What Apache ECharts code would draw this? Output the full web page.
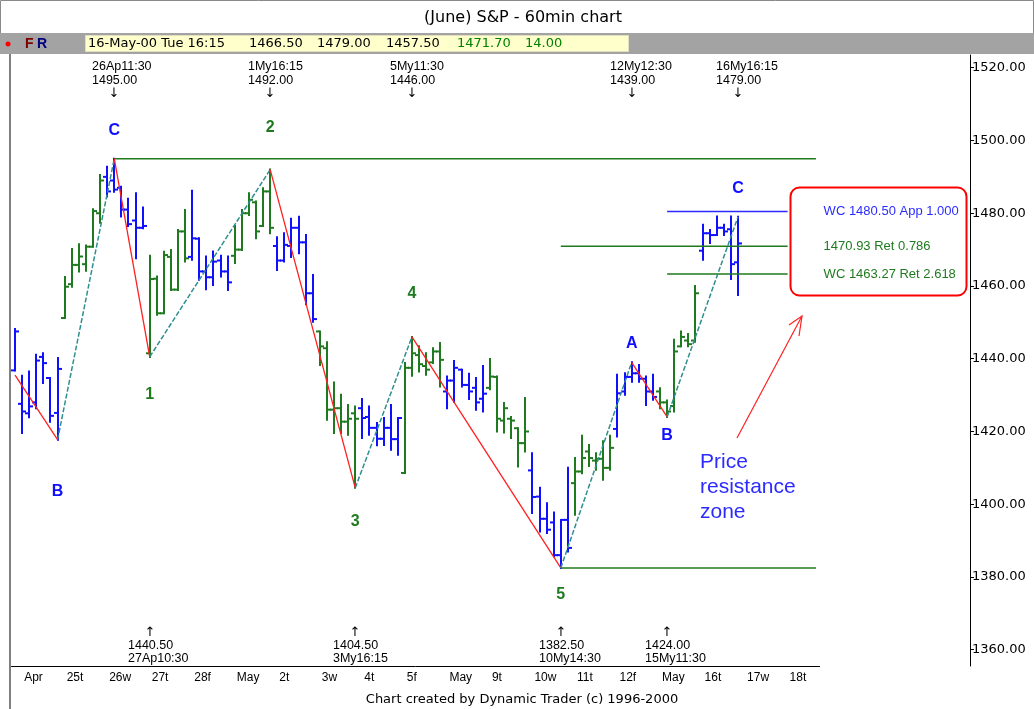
<!DOCTYPE html>
<html>
<head>
<meta charset="utf-8">
<script src="https://cdn.jsdelivr.net/npm/echarts@6/dist/echarts.min.js"></script>
<style>
  html, body { margin: 0; padding: 0; background: #fff; }
  #chart { width: 1034px; height: 709px; }
</style>
</head>
<body>
<div id="chart"></div>
<script>
// 60min bars, 6 per day; bar index 0 = Apr 24 10:30, index -1 = last bar of Apr 20
var dayLabels = ['Apr', '25t', '26w', '27t', '28f', 'May', '2t', '3w', '4t', '5f',
                 'May', '9t', '10w', '11t', '12f', 'May', '16t', '17w', '18t'];
var dayTone = ['b', 'b', 'g', 'b', 'g', 'b', 'g', 'b', 'g', 'b', 'g', 'b', 'g', 'b', 'g', 'b', 'g', 'b']; // from Apr 20
var firstBar = -1;
var lastSlot = 112;

var opens = [1436.8,
  1427.6, 1425.0, 1428.0, 1440.5, 1434.7, 1425.1,
  1451.2, 1460.5, 1465.8, 1466.0, 1470.8, 1480.0,
  1490.0, 1489.0, 1487.0, 1481.0, 1478.0, 1476.0,
  1441.5, 1462.0, 1452.5, 1468.0, 1459.0, 1475.0,
  1468.0, 1473.0, 1464.0, 1462.4, 1467.0, 1464.0,
  1468.3, 1470.0, 1480.0, 1483.0, 1476.5, 1486.0,
  1471.0, 1467.0, 1471.0, 1476.0, 1472.0, 1458.0,
  1447.5, 1442.9, 1426.0, 1426.4, 1422.7, 1425.0,
  1426.4, 1424.0, 1421.0, 1418.0, 1421.0, 1417.9,
  1408.6, 1437.5, 1441.0, 1438.0, 1439.0, 1442.0,
  1431.0, 1434.0, 1437.0, 1432.8, 1432.0, 1429.0,
  1432.0, 1435.0, 1423.0, 1423.5, 1420.9, 1416.8,
  1409.3, 1402.1, 1396.0, 1395.0, 1386.0, 1395.7,
  1405.8, 1409.0, 1414.5, 1412.0, 1412.5, 1410.0,
  1420.7, 1431.0, 1435.0, 1436.0, 1434.5, 1431.0,
  1431.0, 1428.0, 1427.0, 1443.4, 1445.0, 1445.0,
  1469.7, 1474.5, 1474.0, 1476.0, 1475.6, 1466.5];
var highs = [1448.2,
  1435.3, 1436.5, 1441.1, 1441.5, 1434.7, 1440.2,
  1462.5, 1470.2, 1471.5, 1471.1, 1481.1, 1490.5,
  1492.8, 1495.0, 1487.3, 1484.0, 1485.5, 1481.6,
  1468.3, 1462.6, 1469.4, 1469.9, 1475.4, 1480.9,
  1486.2, 1473.1, 1468.1, 1469.5, 1468.3, 1468.1,
  1476.5, 1480.9, 1485.5, 1483.2, 1486.9, 1492.0,
  1473.4, 1474.5, 1478.5, 1479.0, 1474.0, 1463.0,
  1447.5, 1444.5, 1433.5, 1430.1, 1427.3, 1426.9,
  1428.9, 1426.9, 1422.3, 1423.7, 1427.3, 1423.7,
  1438.8, 1446.0, 1443.4, 1441.5, 1442.9, 1444.3,
  1435.1, 1439.4, 1437.0, 1435.9, 1434.7, 1438.0,
  1439.9, 1435.1, 1427.8, 1424.0, 1420.9, 1429.2,
  1414.0, 1404.5, 1400.3, 1397.7, 1395.7, 1410.0,
  1412.7, 1418.8, 1416.3, 1414.0, 1417.3, 1418.8,
  1435.6, 1436.0, 1439.0, 1438.3, 1435.1, 1435.6,
  1431.9, 1428.5, 1445.2, 1447.5, 1446.8, 1460.0,
  1476.8, 1475.4, 1479.1, 1476.8, 1479.1, 1479.0];
var lows = [1436.8,
  1419.6, 1423.9, 1426.4, 1433.3, 1422.7, 1417.75,
  1451.2, 1459.8, 1464.0, 1464.2, 1470.8, 1477.4,
  1484.6, 1485.9, 1479.1, 1476.5, 1467.6, 1475.9,
  1440.5, 1452.1, 1452.5, 1458.9, 1458.9, 1466.7,
  1467.2, 1461.7, 1459.1, 1460.3, 1462.6, 1458.9,
  1466.3, 1469.9, 1479.5, 1473.1, 1476.5, 1474.5,
  1464.4, 1466.7, 1468.0, 1469.0, 1455.0, 1450.2,
  1438.3, 1423.2, 1419.6, 1419.6, 1419.1, 1404.5,
  1418.2, 1419.1, 1416.2, 1416.3, 1415.0, 1413.6,
  1408.6, 1435.3, 1436.5, 1435.6, 1438.8, 1432.4,
  1426.4, 1428.2, 1432.4, 1428.9, 1426.0, 1425.5,
  1431.6, 1420.0, 1419.7, 1418.2, 1410.4, 1414.5,
  1397.6, 1392.5, 1392.1, 1385.7, 1382.5, 1387.0,
  1397.1, 1408.5, 1410.5, 1409.5, 1406.7, 1409.5,
  1418.6, 1430.1, 1433.7, 1433.7, 1427.3, 1428.7,
  1426.4, 1424.0, 1425.5, 1443.4, 1443.4, 1444.7,
  1467.2, 1471.8, 1474.0, 1474.0, 1461.9, 1457.5];
var closes = [1447.5,
  1425.5, 1426.9, 1439.5, 1438.8, 1424.3, 1437.2,
  1459.8, 1465.8, 1468.1, 1470.8, 1480.6, 1489.0,
  1486.0, 1486.5, 1481.0, 1477.0, 1476.0, 1476.5,
  1461.9, 1452.5, 1468.5, 1459.0, 1475.0, 1467.6,
  1473.1, 1464.0, 1462.4, 1466.7, 1464.0, 1461.0,
  1470.0, 1480.0, 1483.7, 1475.0, 1486.0, 1476.0,
  1467.0, 1471.3, 1476.0, 1472.0, 1458.0, 1450.9,
  1443.4, 1426.0, 1426.4, 1422.7, 1423.5, 1423.5,
  1423.7, 1421.0, 1418.0, 1421.0, 1417.9, 1423.7,
  1437.5, 1441.5, 1438.5, 1437.0, 1442.0, 1439.7,
  1434.0, 1437.5, 1432.8, 1431.0, 1428.0, 1430.4,
  1435.1, 1423.5, 1426.4, 1423.0, 1416.8, 1420.0,
  1402.0, 1396.0, 1393.0, 1386.0, 1395.7, 1388.0,
  1409.0, 1412.7, 1412.7, 1412.5, 1410.0, 1415.5,
  1430.5, 1435.0, 1436.0, 1434.5, 1431.0, 1429.5,
  1428.0, 1425.5, 1442.0, 1446.0, 1444.0, 1458.0,
  1474.5, 1474.0, 1476.0, 1475.0, 1466.0, 1471.7];

// swing points of the wave count
var swingIdx   = [-1, 5, 13, 18, 35, 47, 55, 76, 86, 91, 101];
var swingPrice = [1435.5, 1417.75, 1495, 1440.5, 1492, 1404.5, 1446, 1382.5, 1439, 1424, 1479];
var swingTimes = ['', '', '26Ap11:30', '27Ap10:30', '1My16:15', '3My16:15', '5My11:30',
                  '10My14:30', '12My12:30', '15My11:30', '16My16:15'];
var waveNames  = ['', 'B', 'C', '1', '2', '3', '4', '5', 'A', 'B', 'C'];
var waveLabelDy = [0, 52, -28, 38, -42, 34, -43, 27, -19, 19, -28];   // layout only

// horizontal levels
var levelPrice = [1495, 1382.5, 1480.5, 1470.93, 1463.27];
var levelFrom  = [13, 76, 91, 76, 91];
var levelTo    = [112, 112, 108, 108, 108];
var levelText  = ['', '', 'WC 1480.50 App 1.000', '1470.93 Ret 0.786', 'WC 1463.27 Ret 2.618'];
var levelKind  = ['g', 'g', 'b', 'g', 'g'];

var BLUE = '#1010ff', GREEN = '#1f7a1f', RED = '#ff2020', TEAL = '#2f8f8f';
var toneColor = { b: BLUE, g: GREEN };

var chart = echarts.init(document.getElementById('chart'));

var cats = [];
for (var i = firstBar; i <= lastSlot; i++) cats.push(String(i));
function slot(i) { return i - firstBar; }

var barData = opens.map(function (o, n) {
  return [n, o, highs[n], lows[n], closes[n]];
});

function renderBar(params, api) {
  var k = api.value(0);
  var x = Math.round(api.coord([k, 1400])[0]);
  var yo = api.coord([k, api.value(1)])[1];
  var yh = api.coord([k, api.value(2)])[1];
  var yl = api.coord([k, api.value(3)])[1];
  var yc = api.coord([k, api.value(4)])[1];
  var day = Math.floor((params.dataIndex + firstBar) / 6) + 1;
  var st = { stroke: toneColor[dayTone[day]], lineWidth: 2 };
  return {
    type: 'group',
    children: [
      { type: 'line', shape: { x1: x, y1: yh - 1, x2: x, y2: yl + 1 }, style: st },
      { type: 'line', shape: { x1: x - 4, y1: yo, x2: x, y2: yo }, style: st },
      { type: 'line', shape: { x1: x, y1: yc, x2: x + 4, y2: yc }, style: st }
    ]
  };
}

var series = [{
  type: 'custom',
  renderItem: renderBar,
  data: barData,
  encode: { x: 0, y: [1, 2, 3, 4] },
  z: 2
}];

levelPrice.forEach(function (p, n) {
  series.push({
    type: 'line',
    data: [[slot(levelFrom[n]), p], [slot(levelTo[n]), p]],
    symbol: 'none',
    lineStyle: { color: levelKind[n] === 'b' ? '#2b2bff' : GREEN, width: 1.5 },
    endLabel: {
      show: levelText[n] !== '',
      formatter: levelText[n],
      distance: 36,
      color: levelKind[n] === 'b' ? '#2b2bff' : GREEN,
      fontFamily: 'Liberation Sans',
      fontSize: 13
    },
    z: 3
  });
});

for (var s = 0; s + 1 < swingIdx.length; s++) {
  var down = swingPrice[s + 1] < swingPrice[s];
  series.push({
    type: 'line',
    data: [[slot(swingIdx[s]), swingPrice[s]], [slot(swingIdx[s + 1]), swingPrice[s + 1]]],
    symbol: 'none',
    lineStyle: down ? { color: RED, width: 1.3 } : { color: TEAL, width: 1.5, type: [5, 2] },
    z: 4
  });
}

chart.setOption({
  animation: false,
  backgroundColor: '#fff',
  grid: { left: 11.5, right: 214.5, top: 55, bottom: 43 },
  xAxis: {
    type: 'category',
    data: cats,
    boundaryGap: true,
    axisLine: { lineStyle: { color: '#000', width: 1 } },
    axisTick: {
      alignWithLabel: true,
      length: 4,
      lineStyle: { color: '#000' },
      interval: function (index) {
        var i = index + firstBar;
        return i >= 0 && i % 6 === 0 && i / 6 < dayLabels.length;
      }
    },
    axisLabel: {
      interval: function (index) {
        var i = index + firstBar;
        return i >= 0 && i % 6 === 0 && i / 6 < dayLabels.length;
      },
      formatter: function (v, index) { return dayLabels[(index + firstBar) / 6]; },
      align: 'left',
      padding: [0, 0, 0, 2],
      margin: 6,
      color: '#000',
      fontFamily: 'Liberation Sans',
      fontSize: 12
    },
    splitLine: { show: false }
  },
  yAxis: {
    type: 'value',
    position: 'right',
    offset: 150.5,
    min: 1355.53,
    max: 1523.5,
    splitNumber: 8,
    axisLine: { show: true, lineStyle: { color: '#000', width: 1 } },
    axisTick: { show: true, length: 4, lineStyle: { color: '#000' } },
    axisLabel: {
      showMinLabel: false,
      showMaxLabel: false,
      margin: 2,
      color: '#000',
      fontFamily: 'DejaVu Sans',
      fontSize: 13,
      formatter: function (v) { return v.toFixed(2); }
    },
    splitLine: { show: false }
  },
  series: series
});

// annotations placed from the axes
function px(i, p) { return chart.convertToPixel({ gridIndex: 0 }, [slot(i), p]); }
var small = '12.5px "Liberation Sans"';
var g = [];

// header
g.push({ type: 'rect', shape: { x: 0.5, y: 0.5, width: 1033, height: 33 }, style: { fill: '#fff', stroke: '#8a8a8a', lineWidth: 1 } });
g.push({ type: 'text', x: 523, y: 18, style: { text: '(June) S&P - 60min chart', font: '16px "DejaVu Sans"', fill: '#000', textAlign: 'center', textVerticalAlign: 'middle' } });
g.push({ type: 'rect', shape: { x: 0, y: 33, width: 1034, height: 21 }, style: { fill: '#a3a3a3' } });
g.push({ type: 'circle', shape: { cx: 8, cy: 44, r: 2.5 }, style: { fill: '#ff0000' } });
g.push({ type: 'text', x: 25, y: 44, style: { text: 'F', font: 'bold 14px "Liberation Sans"', fill: '#800000', textVerticalAlign: 'middle' } });
g.push({ type: 'text', x: 37, y: 44, style: { text: 'R', font: 'bold 14px "Liberation Sans"', fill: '#000080', textVerticalAlign: 'middle' } });
g.push({ type: 'rect', shape: { x: 85.5, y: 35.5, width: 543, height: 16 }, style: { fill: '#ffffcc', stroke: '#e0e0c0' } });
var info = [['16-May-00 Tue 16:15', 88, '#000'], ['1466.50', 249, '#000'], ['1479.00', 317, '#000'],
            ['1457.50', 386, '#000'], ['1471.70', 457, '#008000'], ['14.00', 525, '#008000']];
info.forEach(function (t) {
  g.push({ type: 'text', x: t[1], y: 44, style: { text: t[0], font: '13px "DejaVu Sans"', fill: t[2], textVerticalAlign: 'middle' } });
});
g.push({ type: 'line', shape: { x1: 10, y1: 54, x2: 10, y2: 709 }, style: { stroke: '#000', lineWidth: 1 } });

// swing notes and wave labels
swingIdx.forEach(function (idx, n) {
  var pt = px(idx, swingPrice[n]);
  var isHigh = (n > 0 && swingPrice[n] > swingPrice[n - 1]);
  if (swingTimes[n]) {
    var x0 = Math.round(pt[0]) - 22;
    var priceTxt = swingPrice[n].toFixed(2);
    if (isHigh) {
      g.push({ type: 'text', x: x0, y: 67, style: { text: swingTimes[n], font: small, fill: '#000', textVerticalAlign: 'middle' } });
      g.push({ type: 'text', x: x0, y: 81, style: { text: priceTxt, font: small, fill: '#000', textVerticalAlign: 'middle' } });
      g.push({ type: 'text', x: Math.round(pt[0]), y: 94, style: { text: '\u2193', font: '13px "DejaVu Sans"', fill: '#000', textAlign: 'center', textVerticalAlign: 'middle' } });
    } else {
      g.push({ type: 'text', x: Math.round(pt[0]), y: 633, style: { text: '\u2191', font: '13px "DejaVu Sans"', fill: '#000', textAlign: 'center', textVerticalAlign: 'middle' } });
      g.push({ type: 'text', x: x0, y: 646, style: { text: priceTxt, font: small, fill: '#000', textVerticalAlign: 'middle' } });
      g.push({ type: 'text', x: x0, y: 659, style: { text: swingTimes[n], font: small, fill: '#000', textVerticalAlign: 'middle' } });
    }
  }
  if (waveNames[n]) {
    g.push({ type: 'text', x: pt[0], y: pt[1] + waveLabelDy[n], style: {
      text: waveNames[n], font: 'bold 16px "Liberation Sans"',
      fill: /\d/.test(waveNames[n]) ? GREEN : BLUE, textAlign: 'center', textVerticalAlign: 'middle' } });
  }
});

// resistance zone call-out
g.push({ type: 'rect', shape: { x: 790.5, y: 187.5, width: 176, height: 108, r: 9 }, style: { fill: null, stroke: '#ff0000', lineWidth: 2 } });
['Price', 'resistance', 'zone'].forEach(function (w, n) {
  g.push({ type: 'text', x: 700, y: 462 + n * 25, style: { text: w, font: '21px "Liberation Sans"', fill: '#2b2bff', textVerticalAlign: 'middle' } });
});
g.push({ type: 'line', shape: { x1: 737, y1: 438, x2: 802, y2: 316 }, style: { stroke: '#ff2020', lineWidth: 1.2 } });
g.push({ type: 'polyline', shape: { points: [[789, 325], [802, 316], [799, 336]] }, style: { stroke: '#ff2020', fill: null, lineWidth: 1.2 } });

// footer
g.push({ type: 'text', x: 522, y: 700, style: { text: 'Chart created by Dynamic Trader (c) 1996-2000', font: '13px "DejaVu Sans"', fill: '#000', textAlign: 'center', textVerticalAlign: 'middle' } });

chart.setOption({ graphic: g });
</script>
</body>
</html>
